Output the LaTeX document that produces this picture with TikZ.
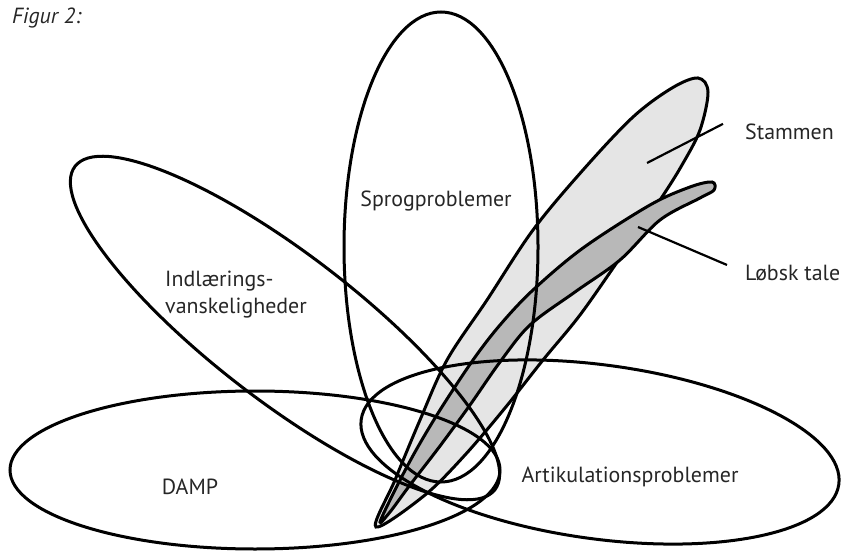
\documentclass[tikz,border=0pt]{standalone}
\usepackage{fontspec}
\setmainfont{PT Sans}
\usetikzlibrary{positioning}
\tikzset{
  set outline/.style={draw=black, line width=3bp},
  set label/.style={font=\fontsize{22}{27}\selectfont, text=black!85, inner sep=0pt},
  stammen fill/.style={fill=black!10},
  lobsk fill/.style={fill=black!28},
  leader/.style={draw=black, line width=2.2bp}
}

\begin{document}
\begin{tikzpicture}[x=1bp, y=-1bp]
  \useasboundingbox (0,0) rectangle (842,552);

  % shaded sets
  \filldraw[set outline, stammen fill] plot[smooth cycle, tension=0.55] coordinates {
    (376,527) (395,480) (420,420) (447,360) (487,300) (533,230) (583,170)
    (633,117) (672,88) (698,78) (708,92) (700,130) (682,165) (660,200)
    (620,258) (580,315) (543,360) (505,408) (465,455) (425,495)};
  \filldraw[set outline, lobsk fill] plot[smooth cycle, tension=0.55] coordinates {
    (380,522) (395,490) (415,452) (440,410) (473,360) (500,325) (533,290)
    (583,248) (650,205) (690,187) (712,182) (714,190) (700,198) (660,220)
    (620,260) (575,292) (530,325) (500,362) (470,405) (440,446) (410,485) (390,512)};

  % outlines
  \draw[set outline] (255,470) ellipse [x radius=245, y radius=79];
  \draw[set outline, rotate around={-37.6:(285,328)}] (285,328) ellipse [x radius=265, y radius=73];
  \draw[set outline] (441,247) ellipse [x radius=97, y radius=235];
  \draw[set outline, rotate around={-7.7:(600,452)}] (600,452) ellipse [x radius=241, y radius=87];

  % labels
  \node[anchor=west, font=\fontsize{22}{27}\selectfont\itshape, text=black!85, inner sep=0pt] (fig) at (12,18) {Figur 2:};
  \node[set label] (sprog) at (436,201) {Sprogproblemer};
  \node[set label, align=left, anchor=west] (indl) at (165,295) {Indlærings-\\vanskeligheder};
  \node[set label] (damp) at (190,487) {DAMP};
  \node[set label] (artik) at (630,477) {Artikulationsproblemer};
  \node[set label, anchor=west] (stammen) at (745,132) {Stammen};
  \node[set label, anchor=west] (lobsk) at (745,273) {Løbsk tale};

  \coordinate (stammen in) at (647,163);
  \coordinate (lobsk in) at (638,227);
  \draw[leader] ([xshift=-22bp]stammen.north west) -- (stammen in);
  \draw[leader] ([xshift=-18bp]lobsk.north west) -- (lobsk in);
\end{tikzpicture}
\end{document}
